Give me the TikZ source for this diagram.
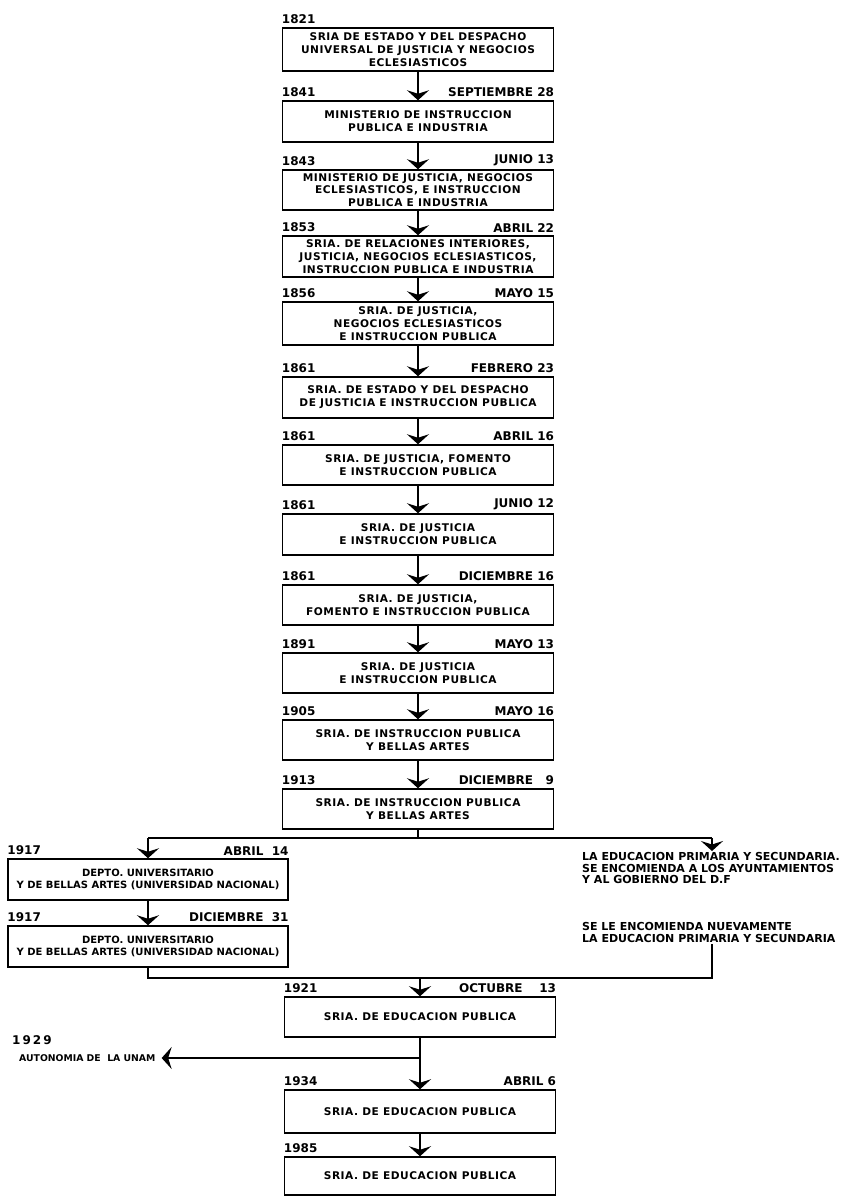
\documentclass[tikz,border=0pt]{standalone}
\usepackage{fontspec}
\newfontfamily\boxfont[LetterSpace=5]{DejaVu Sans}
\newfontfamily\lblfont{DejaVu Sans}
\usetikzlibrary{arrows.meta,positioning}

\tikzset{
  stage/.style={draw, line width=1.5pt, minimum width=271pt, minimum height=41pt,
    inner sep=1pt, align=center, font=\boxfont\bfseries\fontsize{10.6}{12.8}\selectfont},
  wide/.style={stage, minimum width=280pt, font=\lblfont\bfseries\fontsize{10}{12.8}\selectfont},
  yr/.style={anchor=south west, inner sep=0pt, yshift=3pt, font=\lblfont\bfseries\fontsize{12}{14}\selectfont},
  dt/.style={anchor=south east, inner sep=0pt, yshift=3pt, font=\lblfont\bfseries\fontsize{12}{14}\selectfont},
  note/.style={anchor=north west, align=left, inner sep=1pt, font=\lblfont\bfseries\fontsize{11}{11.8}\selectfont},
  flow/.style={line width=2pt, -{Stealth[width=22pt,length=10pt,inset=3.5pt]}},
  link/.style={line width=1.4pt}
}

\begin{document}
\begin{tikzpicture}[x=1pt,y=-1pt]
\useasboundingbox (0,0) rectangle (848,1202);

\node[stage, minimum height=43pt] (s1) at (418,49.5) {SRIA DE ESTADO Y DEL DESPACHO\\UNIVERSAL DE JUSTICIA Y NEGOCIOS\\ECLESIASTICOS};
\node[stage] (s2) at (418,121.5) {MINISTERIO DE INSTRUCCION\\PUBLICA E INDUSTRIA};
\node[stage, minimum height=40pt] (s3) at (418,190) {MINISTERIO DE JUSTICIA, NEGOCIOS\\ECLESIASTICOS, E INSTRUCCION\\PUBLICA E INDUSTRIA};
\node[stage] (s4) at (418,256.5) {SRIA. DE RELACIONES INTERIORES,\\JUSTICIA, NEGOCIOS ECLESIASTICOS,\\INSTRUCCION PUBLICA E INDUSTRIA};
\node[stage, minimum height=43pt] (s5) at (418,323.5) {SRIA. DE JUSTICIA,\\NEGOCIOS ECLESIASTICOS\\E INSTRUCCION PUBLICA};
\node[stage] (s6) at (418,397.5) {SRIA. DE ESTADO Y DEL DESPACHO\\DE JUSTICIA E INSTRUCCION PUBLICA};
\node[stage, minimum height=40pt] (s7) at (418,465) {SRIA. DE JUSTICIA, FOMENTO\\E INSTRUCCION PUBLICA};
\node[stage] (s8) at (418,534.5) {SRIA. DE JUSTICIA\\E INSTRUCCION PUBLICA};
\node[stage, minimum height=40pt] (s9) at (418,605) {SRIA. DE JUSTICIA,\\FOMENTO E INSTRUCCION PUBLICA};
\node[stage, minimum height=40pt] (s10) at (418,673) {SRIA. DE JUSTICIA\\E INSTRUCCION PUBLICA};
\node[stage, minimum height=40pt] (s11) at (418,740) {SRIA. DE INSTRUCCION PUBLICA\\Y BELLAS ARTES};
\node[stage, minimum height=40pt] (s12) at (418,809) {SRIA. DE INSTRUCCION PUBLICA\\Y BELLAS ARTES};

\node[yr] (y1) at (s1.north west) {1821};
\node[yr] (y2) at (s2.north west) {1841};
\node[dt] (d2) at (s2.north east) {SEPTIEMBRE 28};
\node[yr] (y3) at (s3.north west) {1843};
\node[dt] (d3) at (s3.north east) {JUNIO 13};
\node[yr] (y4) at (s4.north west) {1853};
\node[dt] (d4) at (s4.north east) {ABRIL 22};
\node[yr] (y5) at (s5.north west) {1856};
\node[dt] (d5) at (s5.north east) {MAYO 15};
\node[yr] (y6) at (s6.north west) {1861};
\node[dt] (d6) at (s6.north east) {FEBRERO 23};
\node[yr] (y7) at (s7.north west) {1861};
\node[dt] (d7) at (s7.north east) {ABRIL 16};
\node[yr] (y8) at (s8.north west) {1861};
\node[dt] (d8) at (s8.north east) {JUNIO 12};
\node[yr] (y9) at (s9.north west) {1861};
\node[dt] (d9) at (s9.north east) {DICIEMBRE 16};
\node[yr] (y10) at (s10.north west) {1891};
\node[dt] (d10) at (s10.north east) {MAYO 13};
\node[yr] (y11) at (s11.north west) {1905};
\node[dt] (d11) at (s11.north east) {MAYO 16};
\node[yr] (y12) at (s12.north west) {1913};
\node[dt] (d12) at (s12.north east) {DICIEMBRE\ \ \ 9};

\foreach \a/\b in {s1/s2,s2/s3,s3/s4,s4/s5,s5/s6,s6/s7,s7/s8,s8/s9,s9/s10,s10/s11,s11/s12}
  \draw[flow] (\a) -- (\b);

\node[wide] (u1) at (148,879.5) {DEPTO. UNIVERSITARIO\\Y DE BELLAS ARTES (UNIVERSIDAD NACIONAL)};
\node[wide] (u2) at (148,946.5) {DEPTO. UNIVERSITARIO\\Y DE BELLAS ARTES (UNIVERSIDAD NACIONAL)};
\node[yr] (yu1) at (u1.north west) {1917};
\node[dt] (du1) at (u1.north east) {ABRIL\ \ 14};
\node[yr] (yu2) at (u2.north west) {1917};
\node[dt] (du2) at (u2.north east) {DICIEMBRE\ \ 31};

\node[note] (r1) at (581,851) {LA EDUCACION PRIMARIA Y SECUNDARIA.\\SE ENCOMIENDA A LOS AYUNTAMIENTOS\\Y AL GOBIERNO DEL D.F};
\node[note] (r2) at (581,921) {SE LE ENCOMIENDA NUEVAMENTE\\LA EDUCACION PRIMARIA Y SECUNDARIA};

\coordinate (j1) at (418,838);
\coordinate (jl) at (148,838);
\coordinate (jr) at (712,838);
\draw[link] (s12) -- (j1);
\draw[link] (jl) -- (jr);
\draw[flow] (jl) -- (u1);
\draw[flow] (jr) -- (jr |- r1.north);
\draw[flow] (u1) -- (u2);

\node[stage, minimum height=40pt] (e1) at (420,1017) {SRIA. DE EDUCACION PUBLICA};
\node[stage, minimum height=43pt] (e2) at (420,1111.5) {SRIA. DE EDUCACION PUBLICA};
\node[stage, minimum height=38pt] (e3) at (420,1176) {SRIA. DE EDUCACION PUBLICA};
\node[yr] (ye1) at (e1.north west) {1921};
\node[dt] (de1) at (e1.north east) {OCTUBRE\ \ \ \ 13};
\node[yr] (ye2) at (e2.north west) {1934};
\node[dt] (de2) at (e2.north east) {ABRIL 6};
\node[yr] (ye3) at (e3.north west) {1985};

\coordinate (k1) at (148,978);
\coordinate (km) at (420,978);
\coordinate (kr) at (712,978);
\draw[link] (u2) -- (k1) -- (kr) -- (kr |- r2.south);
\draw[flow] (km) -- (e1);
\draw[flow] (e1) -- (e2);
\draw[flow] (e2) -- (e3);

\node[anchor=west, inner sep=0pt, font=\lblfont\bfseries\fontsize{12}{14}\selectfont] (y29) at (12,1040) {1\,9\,2\,9};
\node[anchor=west, inner sep=0pt, font=\lblfont\bfseries\fontsize{9.3}{11}\selectfont] (aut) at (19,1058) {AUTONOMIA DE\ \ LA UNAM};
\coordinate (a1) at (420,1058);
\draw[flow] (a1) -- ([xshift=6pt]aut.east);
\end{tikzpicture}
\end{document}
